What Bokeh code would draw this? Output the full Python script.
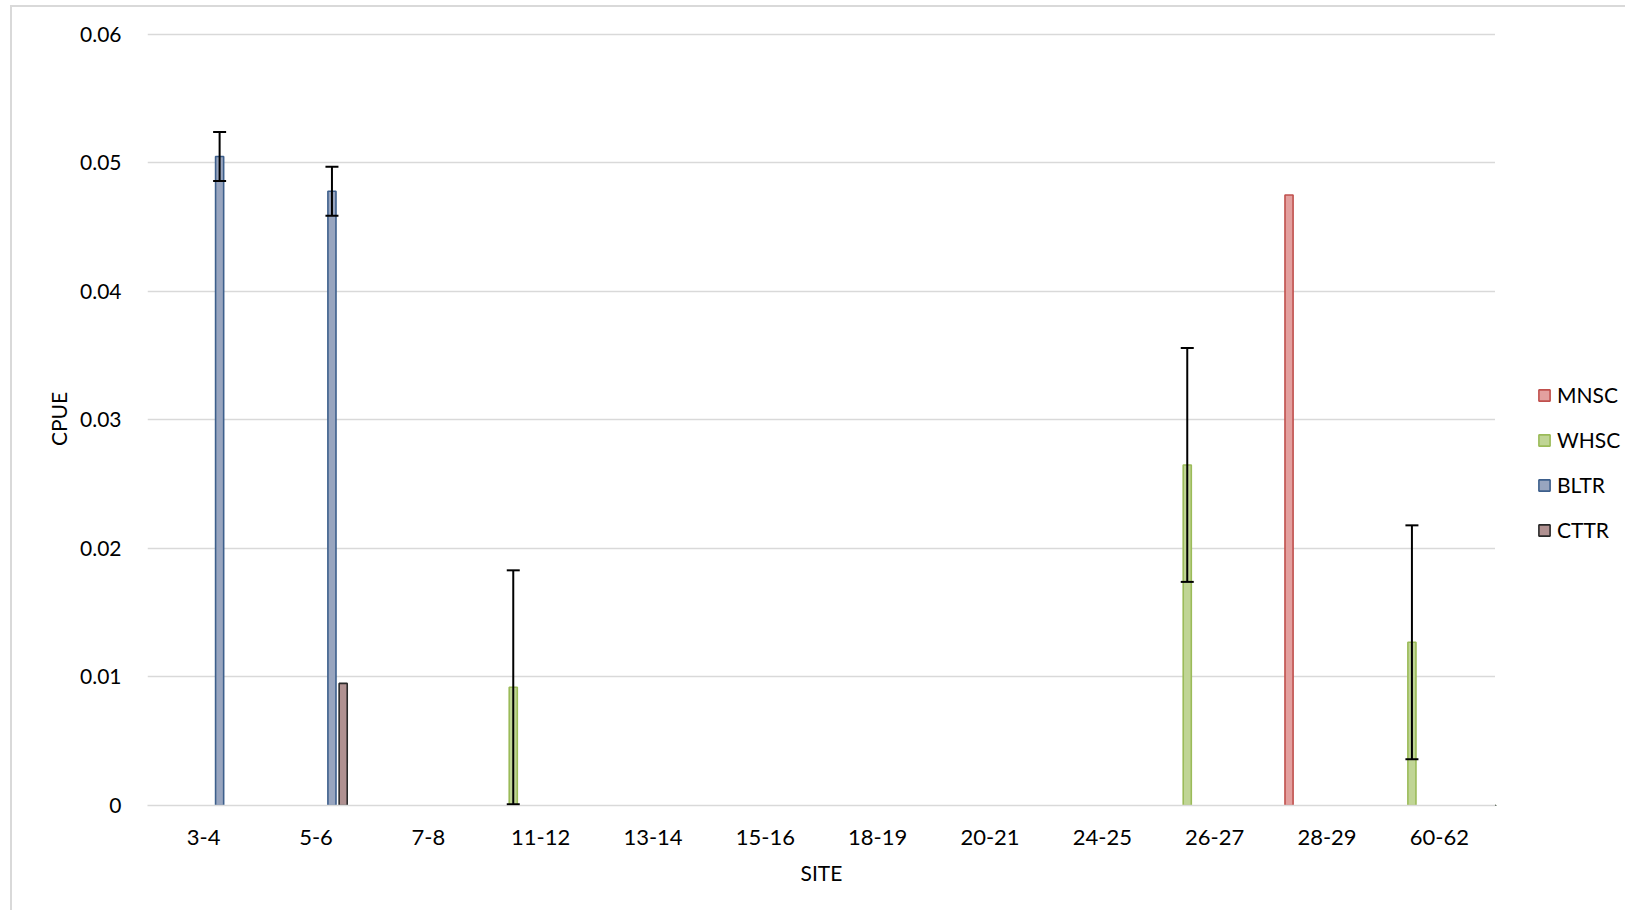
from bokeh.plotting import figure
from bokeh.layouts import row
from bokeh.models import (ColumnDataSource, Range1d, Whisker, TeeHead, Legend, LegendItem,
                          FixedTicker, CustomJSTickFormatter, FactorRange)
from bokeh.transform import dodge
from bokeh.embed import file_html
from bokeh.resources import INLINE

sites = ["3-4", "5-6", "7-8", "11-12", "13-14", "15-16", "18-19", "20-21", "24-25", "26-27", "28-29", "60-62"]
mnsc = [0, 0, 0, 0, 0, 0, 0, 0, 0, 0, 0.0475, 0]
whsc = [0, 0, 0, 0.0092, 0, 0, 0, 0, 0, 0.0265, 0, 0.0127]
bltr = [0.0505, 0.0478, 0, 0, 0, 0, 0, 0, 0, 0, 0, 0]
cttr = [0, 0.0095, 0, 0, 0, 0, 0, 0, 0, 0, 0, 0]
whsc_err = [0, 0, 0, 0.0091, 0, 0, 0, 0, 0, 0.0091, 0, 0.0091]
bltr_err = [0.0019, 0.0019, 0, 0, 0, 0, 0, 0, 0, 0, 0, 0]

FONT = "Lato"
GRID = "#d9d9d9"

p = figure(x_range=sites, y_range=Range1d(0, 0.06015), frame_width=1348, frame_height=773,
           output_backend="svg", toolbar_location=None,
           min_border_left=135, min_border_right=0, min_border_top=25, min_border_bottom=105)
p.outline_line_color = None
p.background_fill_color = "white"
p.border_fill_color = "white"

series = [
    ("MNSC", mnsc, None, -0.338, "#e3a09f", "#c0504d"),
    ("WHSC", whsc, whsc_err, -0.244, "#c0d595", "#9bbb59"),
    ("BLTR", bltr, bltr_err, 0.142, "#98a5bf", "#3d5f8c"),
    ("CTTR", cttr, None, 0.242, "#b09191", "#2a2a2a"),
]

# side figure that only holds the legend; its bars are pushed far outside its visible ranges
q = figure(width=130, height=25 + 773 + 105, x_range=FactorRange(*sites), y_range=(5, 6),
           x_axis_type=None, y_axis_type=None, output_backend="svg", toolbar_location=None,
           min_border=0)
q.outline_line_color = None
q.xgrid.grid_line_color = None
q.ygrid.grid_line_color = None

items = []
for name, vals, errs, off, fill, line in series:
    xs = [s for s, v in zip(sites, vals) if v > 0]
    ys = [v for v in vals if v > 0]
    src = ColumnDataSource(dict(x=xs, top=ys))
    p.vbar(x=dodge("x", off, range=p.x_range), top="top", bottom=0, width=0.072, source=src,
           fill_color=fill, line_color=line, line_width=1.6)
    lr = q.vbar(x=dodge("x", -60, range=q.x_range), top="top", bottom=0, width=0.01, source=src,
                fill_color=fill, line_color=line, line_width=1.6)
    items.append(LegendItem(label=name, renderers=[lr]))
    if errs is not None:
        ex = [s for s, v, e in zip(sites, vals, errs) if e > 0]
        up = [v + e for v, e in zip(vals, errs) if e > 0]
        lo = [max(v - e, 0) for v, e in zip(vals, errs) if e > 0]
        esrc = ColumnDataSource(dict(x=ex, upper=up, lower=lo))
        w = Whisker(base=dodge("x", off, range=p.x_range), upper="upper", lower="lower", source=esrc,
                    line_color="black", line_width=2, level="overlay",
                    upper_head=TeeHead(size=13, line_color="black", line_width=2),
                    lower_head=TeeHead(size=13, line_color="black", line_width=2))
        p.add_layout(w)

# axes
p.yaxis.ticker = FixedTicker(ticks=[0, 0.01, 0.02, 0.03, 0.04, 0.05, 0.06])
p.yaxis.formatter = CustomJSTickFormatter(code="return tick == 0 ? '0' : tick.toFixed(2);")
for ax in (p.xaxis[0], p.yaxis[0]):
    ax.major_label_text_font = FONT
    ax.major_label_text_font_size = "21px"
    ax.major_label_text_color = "#000000"
    ax.axis_label_text_font = FONT
    ax.axis_label_text_font_size = "21px"
    ax.axis_label_text_font_style = "normal"
    ax.axis_label_text_color = "#000000"
    ax.major_tick_line_color = None
    ax.minor_tick_line_color = None
p.xaxis.major_label_text_font_size = "22px"
p.yaxis.axis_line_color = None
p.xaxis.axis_line_color = GRID
p.xaxis.axis_line_width = 1.5
p.yaxis.axis_label = "CPUE"
p.xaxis.axis_label = "SITE"
p.yaxis.major_label_standoff = 20
p.yaxis.axis_label_standoff = 6
p.xaxis.major_label_standoff = 18
p.xaxis.axis_label_standoff = 12

p.xgrid.grid_line_color = None
p.ygrid.grid_line_color = GRID
p.ygrid.grid_line_width = 1.5

legend = Legend(items=items, location=(42, 263), orientation="vertical",
                label_text_font=FONT, label_text_font_size="21px", label_text_color="#000000",
                glyph_height=14, glyph_width=14, label_height=20, spacing=20, label_standoff=6,
                padding=0, margin=0, border_line_color=None, background_fill_alpha=0)
q.add_layout(legend)

layout = row(p, q, styles={"margin-left": "10px", "margin-top": "5px",
                           "border-left": "2px solid #d9d9d9", "border-top": "2px solid #d9d9d9"})

open("out.html", "w").write(file_html(layout, INLINE))
